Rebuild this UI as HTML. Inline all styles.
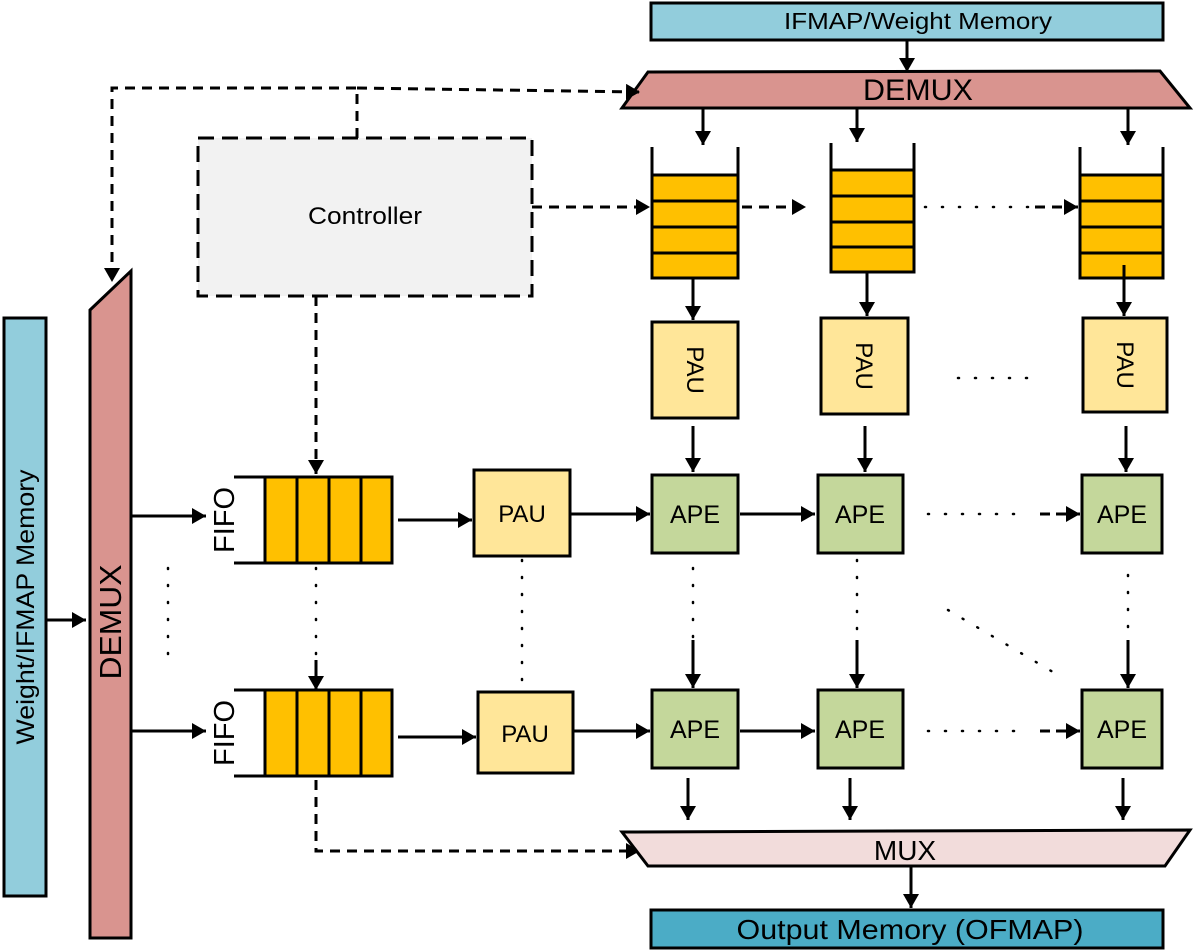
<!DOCTYPE html>
<html><head><meta charset="utf-8"><style>
html,body{margin:0;padding:0;background:#fff;}
svg{display:block;}
text{font-family:"Liberation Sans",sans-serif;fill:#000;}
</style></head><body>
<svg width="1196" height="951" viewBox="0 0 1196 951" xmlns="http://www.w3.org/2000/svg">
<defs>
<marker id="b" markerWidth="14" markerHeight="16" refX="14" refY="8" orient="auto" markerUnits="userSpaceOnUse">
<path d="M0,0 L14,8 L0,16 z" fill="#000"/></marker>
</defs>
<g stroke="#000" stroke-width="3" fill="none">
<rect x="651" y="3" width="512" height="37" fill="#92CDDC"/>
<line x1="907" y1="40" x2="907" y2="72" marker-end="url(#b)"/>
<polygon points="648,72 1160,71 1190,108 622,108" fill="#D9948F"/>
<line x1="703" y1="108" x2="703" y2="145" marker-end="url(#b)"/>
<line x1="857" y1="108" x2="857" y2="142" marker-end="url(#b)"/>
<line x1="1128" y1="108" x2="1128" y2="145" marker-end="url(#b)"/>
<g fill="#FFC000">
<rect x="652" y="175" width="86" height="26"/><rect x="652" y="201" width="86" height="26"/><rect x="652" y="227" width="86" height="26"/><rect x="652" y="253" width="86" height="25"/>
<rect x="831" y="170" width="83" height="26"/><rect x="831" y="196" width="83" height="26"/><rect x="831" y="222" width="83" height="25"/><rect x="831" y="247" width="83" height="25"/>
<rect x="1080" y="175" width="83" height="26"/><rect x="1080" y="201" width="83" height="26"/><rect x="1080" y="227" width="83" height="26"/><rect x="1080" y="253" width="83" height="25"/>
</g>
<line x1="652" y1="147" x2="652" y2="175"/><line x1="738" y1="147" x2="738" y2="175"/>
<line x1="831" y1="143" x2="831" y2="170"/><line x1="914" y1="143" x2="914" y2="170"/>
<line x1="1080" y1="147" x2="1080" y2="175"/><line x1="1163" y1="147" x2="1163" y2="175"/>
<line x1="693" y1="278" x2="693" y2="320" marker-end="url(#b)"/>
<line x1="867" y1="272" x2="867" y2="316" marker-end="url(#b)"/>
<line x1="1124" y1="265" x2="1124" y2="316" marker-end="url(#b)"/>
<rect x="652" y="322" width="86" height="96" fill="#FFE699"/>
<rect x="821" y="318" width="87" height="96" fill="#FFE699"/>
<rect x="1083" y="318" width="84" height="94" fill="#FFE699"/>
<line x1="693" y1="426" x2="693" y2="472" marker-end="url(#b)"/>
<line x1="865" y1="426" x2="865" y2="472" marker-end="url(#b)"/>
<line x1="1126" y1="426" x2="1126" y2="472" marker-end="url(#b)"/>
<g fill="#C4D79B">
<rect x="652" y="475" width="86" height="78"/><rect x="818" y="475" width="85" height="78"/><rect x="1082" y="475" width="80" height="78"/>
<rect x="652" y="690" width="86" height="78"/><rect x="818" y="690" width="85" height="78"/><rect x="1082" y="690" width="80" height="78"/>
</g>
<line x1="740" y1="514" x2="815" y2="514" marker-end="url(#b)"/>
<line x1="740" y1="731" x2="815" y2="731" marker-end="url(#b)"/>
<line x1="1040" y1="514" x2="1080" y2="514" stroke-dasharray="10,6" marker-end="url(#b)"/>
<line x1="1040" y1="731" x2="1080" y2="731" stroke-dasharray="10,6" marker-end="url(#b)"/>
<rect x="474" y="470" width="96" height="86" fill="#FFE699"/>
<rect x="478" y="692" width="95" height="81" fill="#FFE699"/>
<line x1="570" y1="514" x2="650" y2="514" marker-end="url(#b)"/>
<line x1="573" y1="731" x2="650" y2="731" marker-end="url(#b)"/>
<line x1="398" y1="520" x2="472" y2="520" marker-end="url(#b)"/>
<line x1="398" y1="737" x2="476" y2="737" marker-end="url(#b)"/>
<g fill="#FFC000">
<rect x="265" y="477" width="32" height="86"/><rect x="297" y="477" width="32" height="86"/><rect x="329" y="477" width="32" height="86"/><rect x="361" y="477" width="31" height="86"/>
<rect x="265" y="690" width="32" height="86"/><rect x="297" y="690" width="32" height="86"/><rect x="329" y="690" width="32" height="86"/><rect x="361" y="690" width="31" height="86"/>
</g>
<line x1="234" y1="477" x2="265" y2="477"/><line x1="234" y1="563" x2="265" y2="563"/>
<line x1="234" y1="690" x2="265" y2="690"/><line x1="234" y1="776" x2="265" y2="776"/>
<polygon points="90,310 131,271 131,938 90,938" fill="#D9948F"/>
<rect x="4" y="318" width="42" height="578" fill="#92CDDC"/>
<line x1="46" y1="620" x2="86" y2="620" marker-end="url(#b)"/>
<line x1="131" y1="516" x2="206" y2="516" marker-end="url(#b)"/>
<line x1="131" y1="731" x2="206" y2="731" marker-end="url(#b)"/>
<rect x="198" y="138" width="334" height="158" fill="#F2F2F2" stroke-dasharray="16,8"/>
<g stroke-dasharray="10,7">
<polyline points="357,138 357,88 112,88 112,282" marker-end="url(#b)"/>
<line x1="357" y1="88" x2="640" y2="92" marker-end="url(#b)"/>
<line x1="532" y1="207" x2="650" y2="207" marker-end="url(#b)"/>
<line x1="742" y1="207" x2="806" y2="207" marker-end="url(#b)"/>
<line x1="1035" y1="207" x2="1078" y2="207" marker-end="url(#b)"/>
<line x1="316" y1="296" x2="316" y2="474" marker-end="url(#b)"/>
<polyline points="316,780 316,851 640,851" marker-end="url(#b)"/>
</g>
<g stroke-width="2.5" stroke-dasharray="1,16" stroke-linecap="round">
<line x1="925" y1="207" x2="1030" y2="207"/>
<line x1="958" y1="378" x2="1030" y2="378"/>
<line x1="928" y1="514" x2="1030" y2="514"/>
<line x1="928" y1="731" x2="1030" y2="731"/>
<line x1="168" y1="568" x2="168" y2="655"/>
<line x1="316" y1="568" x2="316" y2="660"/>
<line x1="522" y1="560" x2="522" y2="690"/>
<line x1="693" y1="568" x2="693" y2="640"/>
<line x1="857" y1="560" x2="857" y2="640"/>
<line x1="1128" y1="575" x2="1128" y2="635"/>
<line x1="948" y1="610" x2="1058" y2="675"/>
</g>
<line x1="316" y1="660" x2="316" y2="690" marker-end="url(#b)"/>
<line x1="693" y1="640" x2="693" y2="688" marker-end="url(#b)"/>
<line x1="857" y1="640" x2="857" y2="688" marker-end="url(#b)"/>
<line x1="1128" y1="640" x2="1128" y2="688" marker-end="url(#b)"/>
<line x1="688" y1="778" x2="688" y2="820" marker-end="url(#b)"/>
<line x1="850" y1="778" x2="850" y2="820" marker-end="url(#b)"/>
<line x1="1123" y1="778" x2="1123" y2="820" marker-end="url(#b)"/>
<polygon points="622,832 1190,830 1165,866 648,866" fill="#F2DCDB"/>
<line x1="911" y1="866" x2="911" y2="908" marker-end="url(#b)"/>
<rect x="651" y="910" width="512" height="38" fill="#4BACC6"/>
</g>
<g>
<text x="918" y="29" text-anchor="middle" font-size="23" textLength="268" lengthAdjust="spacingAndGlyphs">IFMAP/Weight Memory</text>
<text x="918" y="100" text-anchor="middle" font-size="30" textLength="110" lengthAdjust="spacingAndGlyphs">DEMUX</text>
<text x="365" y="224" text-anchor="middle" font-size="24" textLength="114" lengthAdjust="spacingAndGlyphs">Controller</text>
<text x="522" y="522" text-anchor="middle" font-size="24">PAU</text>
<text x="525" y="742" text-anchor="middle" font-size="24">PAU</text>
<text x="695" y="523" text-anchor="middle" font-size="25">APE</text>
<text x="860" y="523" text-anchor="middle" font-size="25">APE</text>
<text x="1122" y="523" text-anchor="middle" font-size="25">APE</text>
<text x="695" y="738" text-anchor="middle" font-size="25">APE</text>
<text x="860" y="738" text-anchor="middle" font-size="25">APE</text>
<text x="1122" y="738" text-anchor="middle" font-size="25">APE</text>
<text transform="translate(687,370) rotate(90)" text-anchor="middle" font-size="24">PAU</text>
<text transform="translate(856,366) rotate(90)" text-anchor="middle" font-size="24">PAU</text>
<text transform="translate(1117,365) rotate(90)" text-anchor="middle" font-size="24">PAU</text>
<text transform="translate(234,520) rotate(-90)" text-anchor="middle" font-size="29">FIFO</text>
<text transform="translate(234,733) rotate(-90)" text-anchor="middle" font-size="29">FIFO</text>
<text transform="translate(121,622) rotate(-90)" text-anchor="middle" font-size="31" textLength="115" lengthAdjust="spacingAndGlyphs">DEMUX</text>
<text transform="translate(34,607) rotate(-90)" text-anchor="middle" font-size="25" textLength="275" lengthAdjust="spacingAndGlyphs">Weight/IFMAP Memory</text>
<text x="905" y="860" text-anchor="middle" font-size="28">MUX</text>
<text x="910" y="939" text-anchor="middle" font-size="28" textLength="347" lengthAdjust="spacingAndGlyphs">Output Memory (OFMAP)</text>
</g>
</svg>
</body></html>
